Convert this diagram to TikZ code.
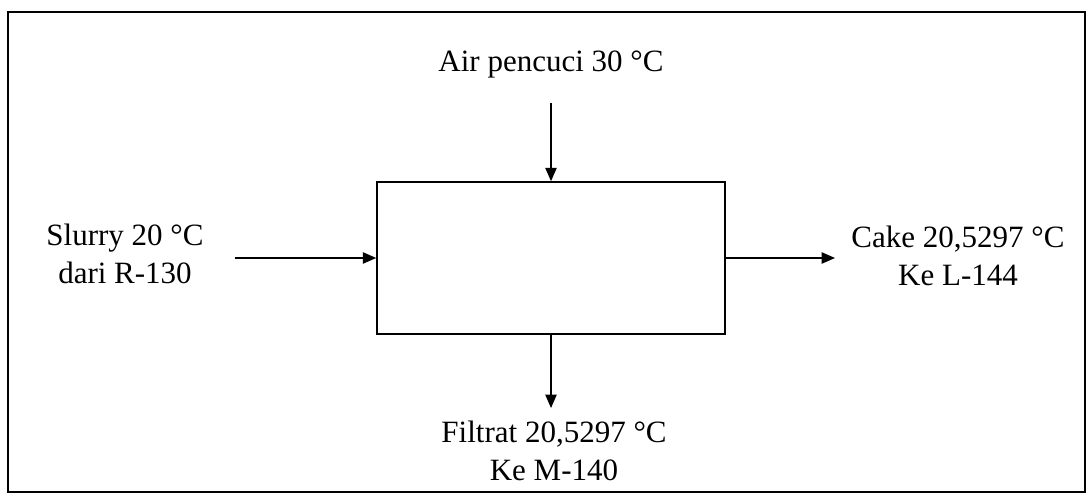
\documentclass[tikz,border=0pt]{standalone}
\usepackage{fontspec}
\setmainfont{Liberation Serif}
\usetikzlibrary{arrows.meta}
\begin{document}
\begin{tikzpicture}[x=0.75pt,y=-0.75pt,
  lbl/.style={font=\fontsize{23.25pt}{28pt}\selectfont, inner sep=0pt, align=center},
  arr/.style={line width=1pt, -{Triangle[length=10pt,width=8.5pt]}},
  unit/.style={draw, line width=1.2pt, minimum width=261pt, minimum height=114pt, inner sep=0pt}]
\useasboundingbox (0,0) rectangle (1089,498);
\draw[line width=2.2pt] (8,12) rectangle (1085,492);
\node[unit] (box) at (551,258) {};
\node[lbl, anchor=base] (air) at (551,72) {Air pencuci 30 °C};
\node[lbl] (slurry) at (125,254) {Slurry 20 °C\\dari R-130};
\node[lbl] (cake) at (958,256) {Cake 20,5297 °C\\Ke L-144};
\node[lbl] (filtrat) at (554,451) {Filtrat 20,5297 °C\\Ke M-140};
\coordinate (atop) at (551,103);
\coordinate (sin) at (235,258);
\coordinate (cout) at (835,258);
\coordinate (fout) at (551,408);
\draw[arr] (atop) -- (box.north);
\draw[arr] (sin) -- (box.west);
\draw[arr] (box.east) -- (cout);
\draw[arr] (box.south) -- (fout);
\end{tikzpicture}
\end{document}
